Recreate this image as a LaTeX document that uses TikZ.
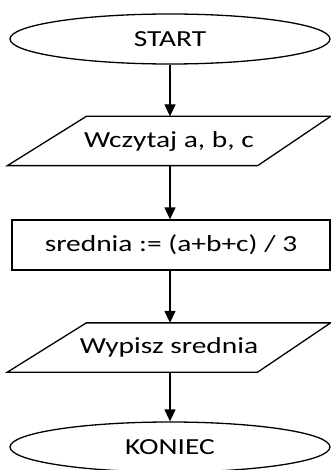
\documentclass[tikz,border=0pt]{standalone}
\usepackage{fontspec}
\setmainfont[FakeStretch=1.28]{Carlito}
\usetikzlibrary{shapes.geometric,arrows.meta,calc}
\begin{document}
\begin{tikzpicture}[x=1pt,y=1pt,
  every node/.style={font=\fontsize{23}{27}\selectfont, line width=1.3pt, inner sep=0pt},
  term/.style={draw, ellipse, minimum width=320pt, minimum height=50pt},
  io/.style={rectangle, minimum width=322pt, minimum height=48pt},
  proc/.style={draw, rectangle, minimum width=318pt, minimum height=50pt},
  slant/.style={line width=1.3pt, line join=miter},
  flow/.style={line width=1.3pt, -{Triangle[width=11pt,length=12pt]}}]
\useasboundingbox (0,0) rectangle (331,-470);
\node[term] (start) at (170,-39) {START};
\node[io] (read) at (169,-141) {Wczytaj a, b, c};
\node[proc] (calc) at (171,-245) {srednia := (a+b+c) / 3};
\node[io] (write) at (169,-347.5) {Wypisz srednia};
\node[term] (stop) at (170,-447) {KONIEC};
% input/output parallelograms around the io nodes
\foreach \n in {read,write}
  \draw[slant] ($(\n.north west)+(79,0)$) -- (\n.north east)
    -- ($(\n.south east)+(-73,0)$) -- (\n.south west) -- cycle;
\draw[flow] (start.south) -- (start.south |- read.north);
\draw[flow] (start.south |- read.south) -- (start.south |- calc.north);
\draw[flow] (start.south |- calc.south) -- (start.south |- write.north);
\draw[flow] (start.south |- write.south) -- (stop.north);
\end{tikzpicture}
\end{document}
